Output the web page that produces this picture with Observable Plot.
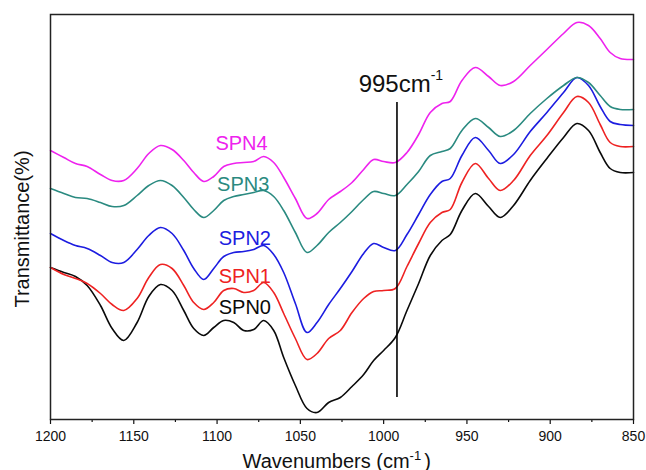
<!DOCTYPE html>
<html><head><meta charset="utf-8">
<script src="https://cdn.jsdelivr.net/npm/d3@7"></script>
<script src="https://cdn.jsdelivr.net/npm/@observablehq/plot@0.6"></script>
<style>body{margin:0;background:#fff}</style>
</head><body><div id="chart"></div>
<script>
// Wavenumber sampling (cm-1)
const wavenumbers = [1200,1192,1185,1178,1170,1163,1156,1148,1141,1134,1127,1120,1114,1108,1102,1096,1090,1084,1078,1072,1066,1060,1053,1046,1040,1033,1026,1019,1012,1006,1000,993,986,979,972,965,960,953,945,937,930,922,912,902,892,884,877,870,864,858,850];
// Transmittance, arbitrary units (stacked spectra)
const spn0 = [152,147,143,134,114,91,79,97,123,135,129,109,91,84,92,99,97,89,90,99,89,62,34,11,7,17,22,33,45,59,69,82,109,136,164,179,185,209,226,213,202,214,239,261,282,296,289,267,251,247,247];
const spn1 = [152,145,141,136,126,115,109,121,142,155,151,134,117,110,117,129,131,127,129,137,127,106,81,60,66,81,89,107,121,128,129,131,153,176,197,207,210,237,256,241,229,239,264,284,307,323,317,295,277,273,273];
const spn2 = [186,179,174,171,164,157,157,170,184,192,186,169,151,140,151,163,167,168,170,174,165,147,116,87,97,115,131,148,166,176,172,169,185,205,225,238,241,264,282,269,256,265,288,307,327,342,334,313,298,295,294];
const spn3 = [231,226,222,221,217,213,214,224,234,239,234,222,210,202,209,219,223,225,227,229,223,209,187,167,174,187,197,208,220,228,226,224,235,248,264,268,271,289,301,292,283,289,306,321,334,342,337,324,313,310,310];
const spn4 = [269,262,256,253,245,239,239,251,266,274,270,259,247,238,243,253,256,257,258,263,257,242,221,201,206,220,228,237,250,260,258,257,267,285,307,316,318,339,352,343,334,338,354,370,386,397,394,381,367,361,360];

const seriesNames = ["SPN0","SPN1","SPN2","SPN3","SPN4"];
const seriesValues = [spn0, spn1, spn2, spn3, spn4];
const seriesColors = ["#0a0a0a","#ee2222","#1c1ce0","#2a8a80","#ee22ee"];

const majorTicks = [1200,1150,1100,1050,1000,950,900,850];
const minorTicks = [1175,1125,1075,1025,975,925,875];

// series label anchors (wavenumber, transmittance)
const labelNames = ["SPN4","SPN3","SPN2","SPN1","SPN0"];
const labelW = [1101,1100,1099,1099,1099];
const labelT = [270,229,175,137,106];

// marker line
const markerW = 992;
const markerFrom = 22, markerTo = 317;
const markerText = "995cm", markerSup = "-1";
const markerTextW = 1015, markerTextT = 328;

const xTitle = "Wavenumbers (cm", xTitleSup = "-1", xTitleEnd = ")";
const yTitle = "Transmittance(%)";

const rows = [];
seriesValues.forEach((vals, i) => vals.forEach((v, j) => rows.push({w: wavenumbers[j], t: v, s: seriesNames[i]})));
const labels = labelNames.map((n, i) => ({name: n, w: labelW[i], t: labelT[i]}));

const font = "'Liberation Sans', Arial, sans-serif";

const plot = Plot.plot({
  width: 646, height: 470,
  marginLeft: 50, marginRight: 13, marginTop: 14, marginBottom: 51,
  x: {domain: [1200, 850]},
  y: {domain: [0, 405], axis: null},
  color: {domain: seriesNames, range: seriesColors},
  style: {fontFamily: font, fontSize: "14px", color: "#111", background: "#fff"},
  marks: [
    Plot.axisX({ticks: minorTicks, tickSize: 3, tickFormat: () => "", label: null, strokeWidth: 1.2}),
    Plot.axisX({ticks: majorTicks, tickSize: 5, tickPadding: 7, tickFormat: d => String(d), label: null, fontSize: 14, strokeWidth: 1.2}),
    Plot.line(rows, {x: "w", y: "t", z: "s", stroke: "s", curve: "catmull-rom", strokeWidth: 1.6}),
    Plot.ruleX([markerW], {x: d => d, y1: markerFrom, y2: markerTo, stroke: "#000", strokeWidth: 1.6}),
    Plot.text([markerText], {x: markerTextW, y: markerTextT, text: d => d, textAnchor: "start", lineAnchor: "bottom", fontSize: 24, fill: "#111"}),
    Plot.text(labels, {x: "w", y: "t", text: "name", fill: "name", textAnchor: "start", lineAnchor: "bottom", fontSize: 20}),
    Plot.text([xTitle], {frameAnchor: "bottom-left", text: d => d, dx: 192, dy: 48, textAnchor: "start", lineAnchor: "bottom", fontSize: 20, fill: "#111"}),
    Plot.text([yTitle], {frameAnchor: "left", text: d => d, rotate: -90, textAnchor: "middle", dx: -28, dy: 12, fontSize: 20, fill: "#111"}),
    Plot.frame({stroke: "#222", strokeWidth: 1.5})
  ]
});
document.getElementById("chart").appendChild(plot);

// superscripts
d3.select(plot).selectAll("text").each(function() {
  const el = d3.select(this);
  const t = el.text();
  if (t === markerText) {
    el.append("tspan").attr("font-size", 14).attr("baseline-shift", 12).text(markerSup);
  } else if (t === xTitle) {
    el.append("tspan").attr("font-size", 13).attr("baseline-shift", 8).text(xTitleSup);
    el.append("tspan").attr("baseline-shift", 0).attr("dx", 3).text(xTitleEnd);
  }
});
</script>
</body></html>
